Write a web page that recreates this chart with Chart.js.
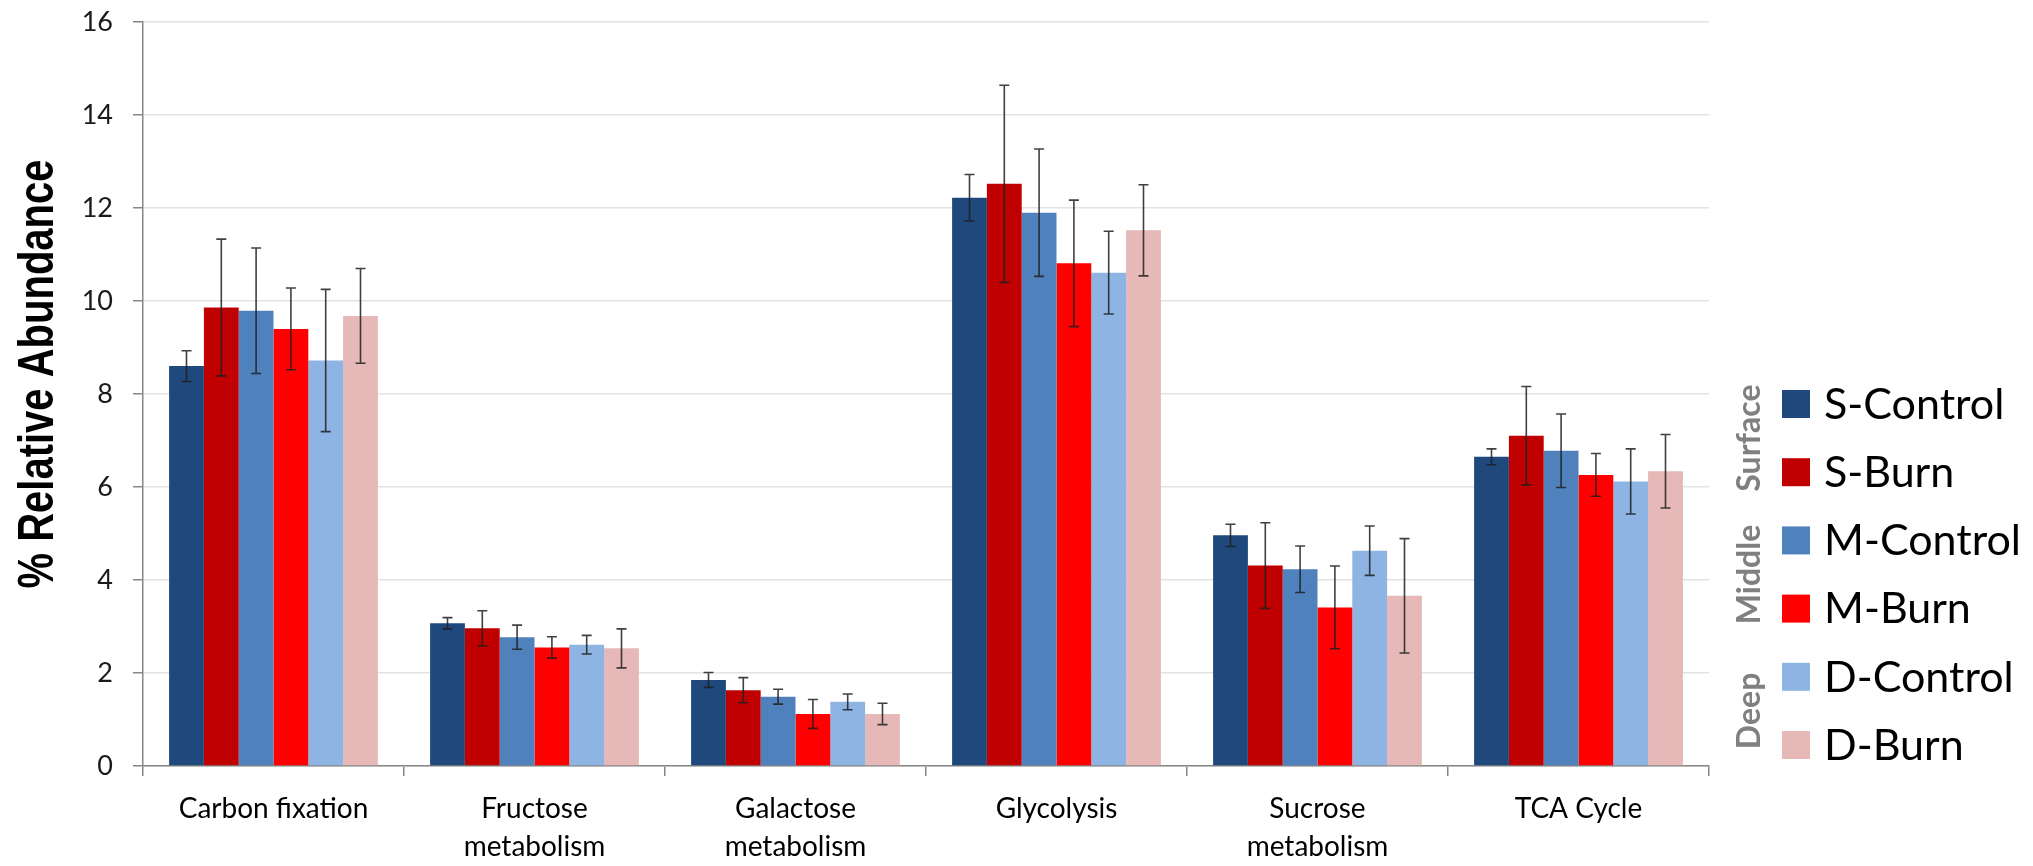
<!DOCTYPE html>
<html>
<head>
<meta charset="utf-8">
<script src="https://cdn.jsdelivr.net/npm/chart.js@4.4.1/dist/chart.umd.min.js"></script>
<style>
  html, body { margin: 0; padding: 0; background: #fff; }
  #wrap { width: 2033px; height: 866px; }
</style>
</head>
<body>
<div id="wrap"><canvas id="canvas" width="2033" height="866"></canvas></div>
<script>
const canvas = document.getElementById("canvas");

// categories (multi-line labels as arrays)
const categories = ["Carbon fixation", ["Fructose", "metabolism"], ["Galactose", "metabolism"], "Glycolysis", ["Sucrose", "metabolism"], "TCA Cycle"];
const seriesNames = ["S-Control", "S-Burn", "M-Control", "M-Burn", "D-Control", "D-Burn"];
const groupNames = ["Surface", "Middle", "Deep"];
const yTitle = "% Relative Abundance";

// mean % relative abundance
const sControl = [8.60, 3.07, 1.85, 12.22, 4.96, 6.65];
const sBurn    = [9.86, 2.96, 1.63, 12.52, 4.31, 7.10];
const mControl = [9.79, 2.77, 1.49, 11.90, 4.23, 6.78];
const mBurn    = [9.40, 2.55, 1.12, 10.81, 3.41, 6.26];
const dControl = [8.72, 2.61, 1.38, 10.61, 4.63, 6.12];
const dBurn    = [9.68, 2.53, 1.12, 11.52, 3.66, 6.34];

// error bar half-widths
const sControlErr = [0.33, 0.12, 0.16, 0.50, 0.24, 0.17];
const sBurnErr    = [1.47, 0.38, 0.27, 2.12, 0.92, 1.06];
const mControlErr = [1.35, 0.26, 0.16, 1.37, 0.50, 0.79];
const mBurnErr    = [0.88, 0.23, 0.31, 1.36, 0.89, 0.46];
const dControlErr = [1.53, 0.20, 0.17, 0.89, 0.53, 0.70];
const dBurnErr    = [1.02, 0.42, 0.23, 0.98, 1.23, 0.79];

const yTicks = [0, 2, 4, 6, 8, 10, 12, 14, 16];

const colors = ['#1F497D', '#C00000', '#4F81BD', '#FF0000', '#8EB4E3', '#E6B9B8'];
const allValues = [sControl, sBurn, mControl, mBurn, dControl, dBurn];
const allErrors = [sControlErr, sBurnErr, mControlErr, mBurnErr, dControlErr, dBurnErr];

const errorBars = {
  id: 'errorBars',
  afterDatasetsDraw(chart) {
    const ctx = chart.ctx;
    const y = chart.scales.y;
    ctx.save();
    ctx.strokeStyle = 'rgba(30,30,30,0.85)';
    ctx.lineWidth = 1.6;
    chart.data.datasets.forEach((ds, i) => {
      const meta = chart.getDatasetMeta(i);
      meta.data.forEach((bar, j) => {
        const v = ds.data[j];
        const e = ds.errors[j];
        const top = y.getPixelForValue(v + e);
        const bot = y.getPixelForValue(v - e);
        ctx.beginPath();
        ctx.moveTo(bar.x, top); ctx.lineTo(bar.x, bot);
        ctx.moveTo(bar.x - 5, top); ctx.lineTo(bar.x + 5, top);
        ctx.moveTo(bar.x - 5, bot); ctx.lineTo(bar.x + 5, bot);
        ctx.stroke();
      });
    });
    ctx.restore();
  }
};

// legend on the right with rotated depth labels, plus the condensed y title
const sideLegend = {
  id: 'sideLegend',
  afterDraw(chart) {
    const ctx = chart.ctx;
    ctx.save();
    const y0 = 404, step = 68.2;
    chart.data.datasets.forEach((ds, i) => {
      const cy = y0 + i * step;
      ctx.fillStyle = ds.backgroundColor;
      ctx.fillRect(1782, cy - 14, 28, 28);
      ctx.fillStyle = '#000';
      ctx.font = '43px Lato';
      ctx.textBaseline = 'middle';
      ctx.textAlign = 'left';
      ctx.fillText(ds.label, 1824, cy + 1);
    });
    ctx.font = 'bold 32px Lato';
    ctx.fillStyle = '#808080';
    ctx.textAlign = 'center';
    ctx.textBaseline = 'middle';
    groupNames.forEach((g, k) => {
      const cy = y0 + (2 * k + 0.5) * step;
      ctx.save();
      ctx.translate(1750, cy);
      ctx.rotate(-Math.PI / 2);
      ctx.fillText(g, 0, 0);
      ctx.restore();
    });

    ctx.save();
    ctx.translate(53, 374);
    ctx.rotate(-Math.PI / 2);
    ctx.scale(0.8, 1);
    ctx.font = 'bold 50px "Liberation Sans"';
    ctx.fillStyle = '#000';
    ctx.textAlign = 'center';
    ctx.textBaseline = 'alphabetic';
    ctx.fillText(yTitle, 0, 0);
    ctx.restore();

    ctx.restore();
  }
};

const myChart = new Chart(canvas, {
  type: 'bar',
  data: {
    labels: categories,
    datasets: seriesNames.map((name, i) => ({
      label: name,
      data: allValues[i],
      errors: allErrors[i],
      backgroundColor: colors[i],
      borderWidth: 0,
      categoryPercentage: 0.8,
      barPercentage: 1.0
    }))
  },
  options: {
    responsive: false,
    animation: false,
    layout: { padding: { top: 22, right: 324, left: 0, bottom: 0 } },
    plugins: {
      legend: { display: false },
      tooltip: { enabled: false }
    },
    scales: {
      x: {
        afterFit: (s) => { s.height = 100; },
        grid: {
          offset: true,
          drawOnChartArea: false,
          drawTicks: true,
          tickLength: 10,
          tickColor: '#868686',
          lineWidth: 1.5
        },
        border: { color: '#868686', width: 1.5 },
        ticks: {
          color: '#000',
          padding: 14,
          font: { family: 'Lato', size: 28, lineHeight: 1.36 }
        }
      },
      y: {
        min: 0,
        max: 16,
        afterFit: (s) => { s.width = 143; s.paddingTop = 0; s.paddingBottom = 0; },
        afterBuildTicks: (s) => { s.ticks = yTicks.map(v => ({ value: v })); },
        grid: {
          color: '#E3E3E3',
          lineWidth: 1.5,
          tickLength: 10,
          tickColor: '#868686'
        },
        border: { color: '#868686', width: 1.5 },
        ticks: {
          color: '#1a1a1a',
          padding: 20,
          font: { family: 'Lato', size: 27 }
        }
      }
    }
  },
  plugins: [errorBars, sideLegend]
});
</script>
</body>
</html>
